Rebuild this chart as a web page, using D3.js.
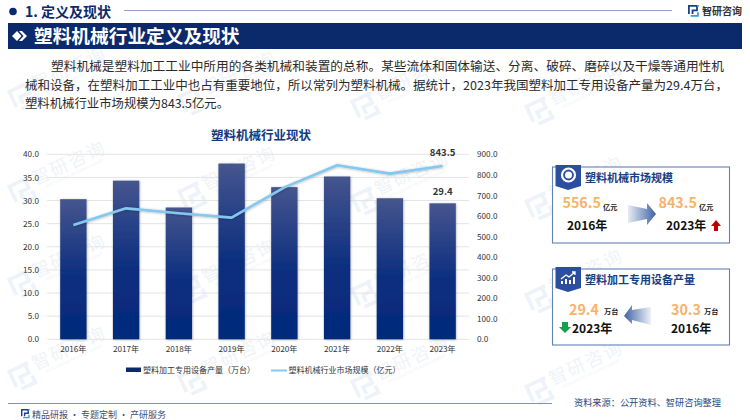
<!DOCTYPE html>
<html><head><meta charset="utf-8">
<script src="https://cdnjs.cloudflare.com/ajax/libs/d3/7.8.5/d3.min.js"></script>
<style>html,body{margin:0;padding:0;background:#fff}svg{display:block}text{font-family:"Noto Sans CJK SC","Noto Sans",sans-serif}</style>
</head><body><svg id="c" width="750" height="420"></svg>
<script>
const categories=["2016年","2017年","2018年","2019年","2020年","2021年","2022年","2023年"];
const production=[30.3,34.3,28.5,38.0,32.9,35.2,30.5,29.4];
const market=[556.5,637,613,592,739,847,806,843.5];
const leftTicks=[0,5,10,15,20,25,30,35,40];
const rightTicks=[0,100,200,300,400,500,600,700,800,900];
const bodyLines=[
"塑料机械是塑料加工工业中所用的各类机械和装置的总称。某些流体和固体输送、分离、破碎、磨碎以及干燥等通用性机",
"械和设备，在塑料加工工业中也占有重要地位，所以常列为塑料机械。据统计，2023年我国塑料加工专用设备产量为29.4万台，",
"塑料机械行业市场规模为843.5亿元。"];
const seriesNames=["塑料加工专用设备产量（万台）","塑料机械行业市场规模（亿元）"];

const navy="#0b2a6b", svg=d3.select("#c"), defs=svg.append("defs");
function txt(g,x,y,s,size,fill,weight,anchor){return g.append("text").attr("x",x).attr("y",y).text(s).attr("font-size",size).attr("fill",fill||"#222").attr("font-weight",weight||400).attr("text-anchor",anchor||"start");}
function logo(g,x,y,s,c1,c2){
  const p=g.append("g").attr("transform",`translate(${x},${y}) scale(${s})`).attr("fill","none").attr("stroke-width",2);
  p.append("path").attr("d","M1 10V1H10V6H5V10").attr("stroke",c1);
  p.append("path").attr("d","M3 12H11V8").attr("stroke",c2);
  p.append("rect").attr("x",10).attr("y",0).attr("width",2).attr("height",2).attr("fill",c2).attr("stroke","none");
}
// watermark
const wm=svg.append("g");
[70,240,413,587].forEach((cx,i)=>{[70,165,258,350].forEach(cy=>{
  const g=wm.append("g").attr("transform",`translate(${cx},${cy+i*5}) rotate(-25)`);
  txt(g,0,4,"智研咨询",18,"#f0f3f7",400,"middle").attr("letter-spacing",2);
  txt(g,0,11,"INTELLIGENCE RESEARCH GROUP",4,"#f0f3f7",400,"middle");
  logo(g,-66,-8,1.9,"#eef3f9","#eef3f9");
});});

// header
svg.append("circle").attr("cx",13).attr("cy",11.5).attr("r",3.8).attr("fill",navy);
txt(svg,25,16.8,"1. 定义及现状",14,navy,700);
svg.append("line").attr("x1",124).attr("x2",672).attr("y1",10.5).attr("y2",10.5).attr("stroke","#8ea2c8").attr("stroke-width",1.2);
logo(svg,688,5,0.9,"#1c3f8c","#2f9fe0");
txt(svg,702,14.5,"智研咨询",10,"#333",700);
svg.append("rect").attr("x",8).attr("y",23).attr("width",734).attr("height",26).attr("fill",navy);
svg.append("path").attr("d","M12 36l5-5 4.5 5-4.5 5zM19 31h3l5 5-5 5h-3l4.5-5z").attr("fill","#fff");
txt(svg,34,43,"塑料机械行业定义及现状",18.7,"#fff",700);
// body
[[51,bodyLines[0],673],[25,bodyLines[1],703],[25,bodyLines[2],204]].forEach((d,i)=>{
  txt(svg,d[0],71+i*18.5,d[1],12.3,"#2a2a2a").attr("textLength",d[2]).attr("lengthAdjust","spacingAndGlyphs");
});
txt(svg,261,140,"塑料机械行业现状",12.5,"#123a7d",700,"middle");

// chart
const x=d3.scaleBand().domain(categories).range([47,469]).paddingInner(0.5).paddingOuter(0.25);
const yL=d3.scaleLinear().domain([0,40]).range([339.3,154.3]);
const yR=d3.scaleLinear().domain([0,900]).range([339.3,154.3]);
const gr=defs.append("linearGradient").attr("id","bar").attr("x1",0).attr("x2",0).attr("y1",0).attr("y2",1);
[[0,"#46558e"],[0.55,"#0c2f7f"],[1,"#03297a"]].forEach(s=>gr.append("stop").attr("offset",s[0]).attr("stop-color",s[1]));
const sh=defs.append("filter").attr("id","sh").attr("x","-20%").attr("y","-20%").attr("width","140%").attr("height","140%");
sh.append("feDropShadow").attr("dx",0.5).attr("dy",0.5).attr("stdDeviation",0.9).attr("flood-color","#000").attr("flood-opacity",0.3);

svg.append("g").selectAll("line").data(leftTicks).join("line").attr("x1",47).attr("x2",469)
  .attr("y1",d=>yL(d)).attr("y2",d=>yL(d)).attr("stroke","#e4e4e4").attr("stroke-width",1);
svg.append("g").selectAll("rect").data(production).join("rect")
  .attr("x",(d,i)=>x(categories[i])).attr("width",x.bandwidth()).attr("y",d=>yL(d)).attr("height",d=>yL(0)-yL(d))
  .attr("fill","url(#bar)").attr("filter","url(#sh)");

const axL=svg.append("g").attr("transform","translate(42,0)").call(d3.axisLeft(yL).tickValues(leftTicks).tickSize(0).tickPadding(3).tickFormat(d3.format(".1f")));
const axR=svg.append("g").attr("transform","translate(474,0)").call(d3.axisRight(yR).tickValues(rightTicks).tickSize(0).tickPadding(3).tickFormat(d3.format(".1f")));
const axB=svg.append("g").attr("transform","translate(0,343)").call(d3.axisBottom(x).tickSize(0).tickPadding(3));
[axL,axR,axB].forEach(a=>{a.select(".domain").remove();a.selectAll("text").attr("font-size",8.2).attr("fill","#333").style("font-family",'"Noto Sans CJK SC"');});

const line=d3.line().x((d,i)=>x(categories[i])+x.bandwidth()/2).y(d=>yR(d));
svg.append("path").datum(market).attr("d",line).attr("fill","none").attr("stroke","#84c8f0").attr("stroke-width",2.6).attr("stroke-linejoin","round").attr("filter","url(#sh)");
const lastX=x(categories[7])+x.bandwidth()/2;
txt(svg,lastX,yR(market[7])-9.5,market[7].toFixed(1),9.5,"#333",700,"middle");
txt(svg,lastX,yL(production[7])-8.5,production[7].toFixed(1),9.5,"#333",700,"middle");

// legend
svg.append("rect").attr("x",126).attr("y",367.5).attr("width",15).attr("height",4.5).attr("fill",navy);
txt(svg,143,373,seriesNames[0],8,"#333");
svg.append("line").attr("x1",271).attr("x2",287).attr("y1",370.5).attr("y2",370.5).attr("stroke","#84c8f0").attr("stroke-width",2);
txt(svg,288.5,373,seriesNames[1],8,"#333");

// cards
const ag=defs.append("linearGradient").attr("id","ar1");
ag.append("stop").attr("offset",0).attr("stop-color","#e6ecf5");ag.append("stop").attr("offset",1).attr("stop-color","#3f62a3");
const ag2=defs.append("linearGradient").attr("id","ar2").attr("x1",1).attr("x2",0);
ag2.append("stop").attr("offset",0).attr("stop-color","#eef2f8");ag2.append("stop").attr("offset",1).attr("stop-color","#3f62a3");
function card(y0,title){
  svg.append("rect").attr("x",552.5).attr("y",y0).attr("width",177).attr("height",76).attr("fill","#fff").attr("fill-opacity",.75).attr("stroke","#5f82b8").attr("stroke-width",1.1);
  svg.append("path").attr("d",`M555.5 ${y0-2}H581V${y0+19}L568 ${y0+23}L555.5 ${y0+19}Z`).attr("fill","#2b4f9e");
  txt(svg,585,y0+15,title,11,"#17407f",700);
}
card(167,"塑料机械市场规模");
svg.append("circle").attr("cx",568.5).attr("cy",175).attr("r",6.5).attr("fill","none").attr("stroke","#fff").attr("stroke-width",2.2);
svg.append("circle").attr("cx",568.5).attr("cy",175).attr("r",3.5).attr("fill","#fff");
txt(svg,562.5,208,"556.5",14.3,"#f8b26a",700);
txt(svg,603,210,"亿元",7.2,"#222",700);
txt(svg,567,230,"2016年",12,"#111",700);
txt(svg,658.5,208,"843.5",14.3,"#f8b26a",700);
txt(svg,699,210,"亿元",7.2,"#222",700);
txt(svg,666,230,"2023年",12,"#111",700);
svg.append("path").attr("d","M628 205L647 209V203L656 214L647 225V219L628 223Z").attr("fill","url(#ar1)");
svg.append("path").attr("d","M716 220L721 226H718V231H714V226H711Z").attr("fill","#c00000");

card(269,"塑料加工专用设备产量");
const ic=svg.append("g").attr("stroke","#fff").attr("fill","none").attr("stroke-width",1.3);
ic.append("path").attr("d","M561 279L566 275L569 277L575 272M572 272H575V275");
ic.append("path").attr("d","M562 284V281M566 284V279M570 284V280M574 284V277").attr("stroke-width",2);
txt(svg,569,315,"29.4",14.3,"#f8b26a",700);
txt(svg,604,314,"万台",7.2,"#222",700);
txt(svg,671,315,"30.3",14.3,"#f8b26a",700);
txt(svg,704,314,"万台",7.2,"#222",700);
txt(svg,572,333,"2023年",12,"#111",700);
txt(svg,671,333,"2016年",12,"#111",700);
svg.append("path").attr("d","M651 307L632 310V305L624 316L632 324V320L651 325Z").attr("fill","url(#ar2)");
svg.append("path").attr("d","M565 333L571 327H568V322H562V327H559Z").attr("fill","#14a04a");

// footer
svg.append("line").attr("x1",8).attr("x2",552).attr("y1",403.5).attr("y2",403.5).attr("stroke","#7f93bd").attr("stroke-width",1.2);
logo(svg,21,409,0.72,"#1c3f8c","#2f9fe0");
txt(svg,32,418,"精品研报 · 专题定制 · 产研服务",9,"#3c4f78");
txt(svg,574,406,"资料来源：公开资料、智研咨询整理",9.2,"#2c4a80");
</script></body></html>
